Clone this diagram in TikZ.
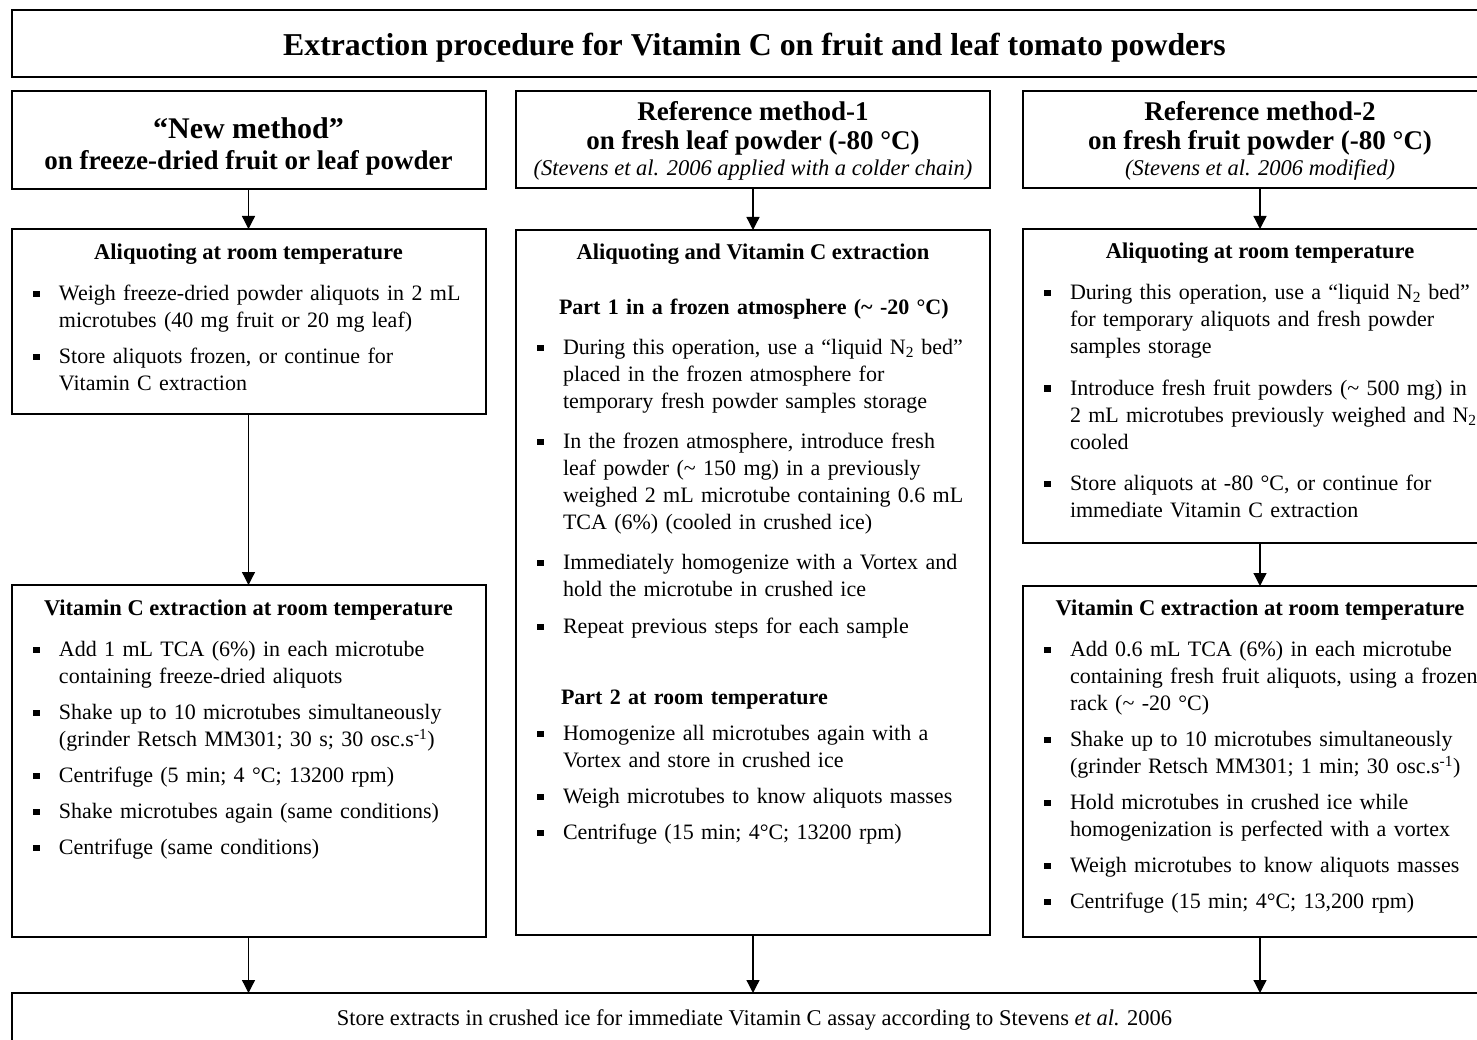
\documentclass[tikz,border=0pt]{standalone}
\usepackage{fontspec}
\setmainfont{Liberation Serif}
\usetikzlibrary{arrows.meta}

% bullet list used inside the step boxes
\newenvironment{steplist}[1][9pt]{%
  \begin{list}{\rule[3.5pt]{6.5pt}{6.5pt}}{%
    \setlength{\leftmargin}{47pt}\setlength{\labelwidth}{26pt}%
    \setlength{\labelsep}{0pt}\setlength{\itemsep}{#1}%
    \setlength{\parsep}{0pt}\setlength{\topsep}{0pt}%
    \setlength{\partopsep}{0pt}\setlength{\itemindent}{0pt}%
    \renewcommand{\makelabel}[1]{\strut##1\hfil}}}%
  {\end{list}}

\begin{document}
\begin{tikzpicture}[x=1pt, y=-1pt,
    every node/.style={font=\fontsize{22.5}{27}\selectfont, inner sep=0pt, outer sep=0pt},
    blk/.style={draw, line width=2pt, minimum width=474pt},
    head/.style={font=\fontsize{27}{33}\selectfont\bfseries},
    cite/.style={font=\fontsize{22.5}{27}\selectfont\itshape},
    boxtitle/.style={font=\fontsize{22.5}{27}\selectfont\bfseries},
    items/.style={anchor=north west, text width=470pt, align=left, font=\fontsize{22}{27}\selectfont},
    flow/.style={-{Triangle[width=13pt,length=13pt]}, line width=1.3pt}]
	\useasboundingbox (0,0) rectangle (1477,1040);
	\clip (0,0) rectangle (1477,1040);
	% boxes
	\node[blk, minimum width=1485pt, minimum height=67pt] (title) at (754.5,43.5) {};
	\node[blk, minimum height=98pt] (hdA) at (248.5,140) {};
	\node[blk, minimum height=97pt] (hdB) at (753,139.5) {};
	\node[blk, minimum height=97pt] (hdC) at (1260,139.5) {};
	\node[blk, minimum height=185pt] (alqA) at (248.5,321.5) {};
	\node[blk, minimum height=352pt] (extA) at (248.5,761) {};
	\node[blk, minimum height=705pt] (alqB) at (753,582.5) {};
	\node[blk, minimum height=314pt] (alqC) at (1260,386) {};
	\node[blk, minimum height=351pt] (extC) at (1260,761.5) {};
	\node[blk, line width=1.2pt, minimum width=1485pt, minimum height=54pt] (store) at (754.5,1020) {};
	% headings
	\node[font=\fontsize{31.8}{38}\selectfont\bfseries] (ttl) at (754.5,48) {Extraction procedure for Vitamin C on fruit and leaf tomato powders};
	\node[font=\fontsize{30}{36}\selectfont\bfseries] (hdA1) at (248.5,128) {“New method”};
	\node[head] (hdA2) at (248.5,163) {on freeze-dried fruit or leaf powder};
	\node[head] (hdB1) at (753,111) {Reference method-1};
	\node[head] (hdB2) at (753,143) {on fresh leaf powder (-80 °C)};
	\node[cite] (hdB3) at (753,170) {(Stevens et al. 2006 applied with a colder chain)};
	\node[head] (hdC1) at (1260,111) {Reference method-2};
	\node[head] (hdC2) at (1260,143) {on fresh fruit powder (-80 °C)};
	\node[cite] (hdC3) at (1260,170) {(Stevens et al. 2006 modified)};
	% new method
	\node[boxtitle] (alqAt) at (248.5,254) {Aliquoting at room temperature};
	\node[items] (alqAl) at (12,273.6) {\begin{steplist}
		\item Weigh freeze-dried powder aliquots in 2 mL\\ microtubes (40 mg fruit or 20 mg leaf)
		\item Store aliquots frozen, or continue for\\ Vitamin C extraction
	\end{steplist}};
	\node[boxtitle] (extAt) at (248.5,610) {Vitamin C extraction at room temperature};
	\node[items] (extAl) at (12,629.6) {\begin{steplist}
		\item Add 1 mL TCA (6\%) in each microtube\\ containing freeze-dried aliquots
		\item Shake up to 10 microtubes simultaneously\\ (grinder Retsch MM301; 30 s; 30 osc.s\textsuperscript{-1})
		\item Centrifuge (5 min; 4 °C; 13200 rpm)
		\item Shake microtubes again (same conditions)
		\item Centrifuge (same conditions)
	\end{steplist}};
	% reference method 1
	\node[boxtitle] (alqBt) at (753,254) {Aliquoting and Vitamin C extraction};
	\node[items] (alqBp1) at (516,287.6) {\begin{steplist}[13pt]
		\item[] \hspace{-4pt}\textbf{Part 1 in a frozen atmosphere (\textasciitilde{} -20 °C)}
		\item During this operation, use a “liquid N\textsubscript{2} bed”\\ placed in the frozen atmosphere for\\ temporary fresh powder samples storage
		\item In the frozen atmosphere, introduce fresh\\ leaf powder (\textasciitilde{} 150 mg) in a previously\\ weighed 2 mL microtube containing 0.6 mL\\ TCA (6\%) (cooled in crushed ice)
		\item Immediately homogenize with a Vortex and\\ hold the microtube in crushed ice
		\setlength{\itemsep}{10pt}
		\item Repeat previous steps for each sample
	\end{steplist}};
	\node[items] (alqBp2) at (516,677.6) {\begin{steplist}
		\item[] \hspace{-2pt}\textbf{Part 2 at room temperature}
		\item Homogenize all microtubes again with a\\ Vortex and store in crushed ice
		\item Weigh microtubes to know aliquots masses
		\item Centrifuge (15 min; 4°C; 13200 rpm)
	\end{steplist}};
	% reference method 2
	\node[boxtitle] (alqCt) at (1260,253) {Aliquoting at room temperature};
	\node[items] (alqCl) at (1023,272.6) {\begin{steplist}[14.5pt]
		\item During this operation, use a “liquid N\textsubscript{2} bed”\\ for temporary aliquots and fresh powder\\ samples storage
		\item Introduce fresh fruit powders (\textasciitilde{} 500 mg) in\\ 2 mL microtubes previously weighed and N\textsubscript{2}\\ cooled
		\item Store aliquots at -80 °C, or continue for\\ immediate Vitamin C extraction
	\end{steplist}};
	\node[boxtitle] (extCt) at (1260,610) {Vitamin C extraction at room temperature};
	\node[items] (extCl) at (1023,629.6) {\begin{steplist}
		\item Add 0.6 mL TCA (6\%) in each microtube\\ containing fresh fruit aliquots, using a frozen\\ rack (\textasciitilde{} -20 °C)
		\item Shake up to 10 microtubes simultaneously\\ (grinder Retsch MM301; 1 min; 30 osc.s\textsuperscript{-1})
		\item Hold microtubes in crushed ice while\\ homogenization is perfected with a vortex
		\item Weigh microtubes to know aliquots masses
		\item Centrifuge (15 min; 4°C; 13,200 rpm)
	\end{steplist}};
	% final step
	\node (storet) at (754.5,1020) {Store extracts in crushed ice for immediate Vitamin C assay according to Stevens \emph{et al.} 2006};
	% arrows
	\draw[flow] (hdA) -- (alqA);
	\draw[flow] (alqA) -- (extA);
	\draw[flow] (hdB) -- (alqB);
	\draw[flow] (hdC) -- (alqC);
	\draw[flow] (alqC) -- (extC);
	\draw[flow] (extA) -- (extA |- store.north);
	\draw[flow] (alqB) -- (alqB |- store.north);
	\draw[flow] (extC) -- (extC |- store.north);
\end{tikzpicture}
\end{document}
